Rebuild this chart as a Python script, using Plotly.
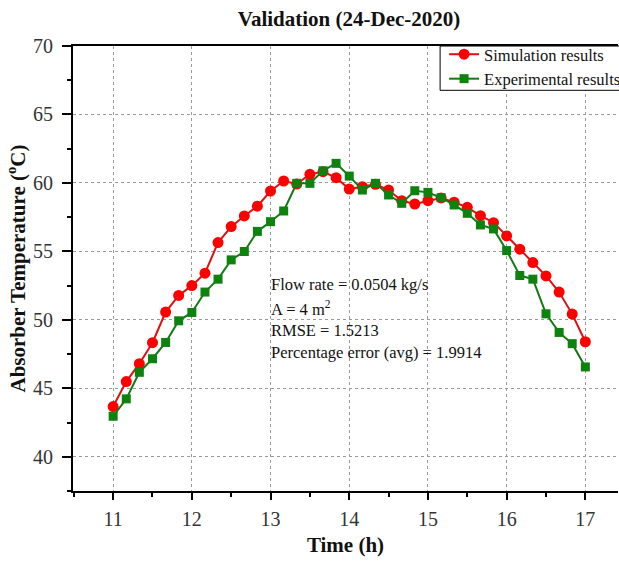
import plotly.graph_objects as go

# Time of day (h), 10-minute readings from 11:00 to 17:00
time_h = [11.0, 11.167, 11.333, 11.5, 11.667, 11.833, 12.0, 12.167, 12.333, 12.5,
          12.667, 12.833, 13.0, 13.167, 13.333, 13.5, 13.667, 13.833, 14.0, 14.167,
          14.333, 14.5, 14.667, 14.833, 15.0, 15.167, 15.333, 15.5, 15.667, 15.833,
          16.0, 16.167, 16.333, 16.5, 16.667, 16.833, 17.0]

# Absorber temperature (°C)
simulation = [43.67, 45.49, 46.8, 48.33, 50.57, 51.78, 52.5, 53.41, 55.64, 56.81,
              57.59, 58.3, 59.41, 60.14, 59.92, 60.63, 60.82, 60.38, 59.55, 59.72,
              59.9, 59.48, 58.7, 58.46, 58.7, 58.9, 58.59, 58.22, 57.61, 57.1,
              56.13, 55.16, 54.18, 53.21, 52.03, 50.42, 48.4]
experimental = [42.96, 44.23, 46.17, 47.16, 48.35, 49.93, 50.54, 52.03, 52.97, 54.38,
                54.99, 56.46, 57.17, 57.95, 59.97, 59.97, 60.89, 61.43, 60.5, 59.48,
                59.97, 59.12, 58.51, 59.43, 59.31, 58.92, 58.39, 57.78, 56.93, 56.64,
                55.06, 53.24, 52.97, 50.44, 49.08, 48.26, 46.56]

x_ticks = [11, 12, 13, 14, 15, 16, 17]
y_ticks = [40, 45, 50, 55, 60, 65, 70]

info_lines = ["Flow rate = 0.0504 kg/s", "A = 4 m<sup>2</sup>", "RMSE = 1.5213",
              "Percentage error (avg) = 1.9914"]
info_y = [52.56, 50.8, 49.2, 47.6]

SERIF = "Liberation Serif, Times New Roman, serif"

# plot-area geometry in pixels (used for legend / box placement)
W, H = 619, 561
L, R, T, B = 72.7, 1, 45.7, 70.3
PW, PH = W - L - R, H - T - B

fig = go.Figure()
fig.add_trace(go.Scatter(
    x=time_h, y=simulation, name="Simulation results", mode="lines+markers",
    line=dict(color="#DD1111", width=2),
    marker=dict(symbol="circle", size=11, color="#FF0000", line=dict(width=0)),
))
fig.add_trace(go.Scatter(
    x=time_h, y=experimental, name="Experimental results", mode="lines+markers",
    line=dict(color="#127A12", width=2),
    marker=dict(symbol="square", size=9, color="#0E820E", line=dict(width=0)),
))

for txt, yv in zip(info_lines, info_y):
    fig.add_annotation(x=12.98, y=yv, xref="x", yref="y", text=txt, showarrow=False,
                       xanchor="left", yanchor="middle", align="left",
                       font=dict(family=SERIF, size=16.5, color="#111111"))

# framed box behind the legend entries
fig.add_shape(type="rect", xref="paper", yref="paper",
              x0=(440 - L) / PW, x1=1.02, y0=1 - (90 - T) / PH, y1=1,
              line=dict(color="black", width=1), fillcolor="white", layer="above")

grid = dict(showgrid=True, gridcolor="#9a9a9a", gridwidth=1, griddash="dot")

fig.update_layout(
    width=W, height=H,
    margin=dict(l=L, r=R, t=T, b=B, autoexpand=False),
    paper_bgcolor="white", plot_bgcolor="white",
    font=dict(family=SERIF, color="#222222"),
    title=dict(text="<b>Validation (24-Dec-2020)</b>", x=349 / W, xref="container",
               xanchor="center", y=1 - 19 / H, yref="container", yanchor="middle",
               font=dict(family=SERIF, size=21, color="#111111")),
    xaxis=dict(range=[10.49, 17.415], tickvals=x_ticks, ticks="outside", ticklen=7,
               tickwidth=2, tickcolor="black", showline=True, linecolor="black",
               linewidth=2, mirror=True, zeroline=False,
               tickfont=dict(family=SERIF, size=20, color="#333333"),
               ticklabelstandoff=2,
               minor=dict(dtick=0.5, ticks="outside", ticklen=4, tickwidth=2,
                          tickcolor="black", showgrid=False),
               title=dict(text="<b>Time (h)</b>", standoff=8,
                          font=dict(family=SERIF, size=21, color="#111111")),
               **grid),
    yaxis=dict(range=[37.5, 70], tickvals=y_ticks, ticks="outside", ticklen=9,
               tickwidth=2, tickcolor="black", showline=True, linecolor="black",
               linewidth=2, zeroline=False,
               tickfont=dict(family=SERIF, size=20, color="#333333"),
               ticklabelstandoff=5,
               minor=dict(dtick=2.5, ticks="outside", ticklen=4, tickwidth=2,
                          tickcolor="black", showgrid=False),
               title=dict(text="<b>Absorber Temperature (<sup>o</sup>C)</b>", standoff=2,
                          font=dict(family=SERIF, size=21, color="#111111")),
               **grid),
    legend=dict(x=(444 - L) / PW, y=1 + 9 / PH, xanchor="left", yanchor="top",
                bgcolor="rgba(0,0,0,0)", borderwidth=0,
                font=dict(family=SERIF, size=16.5, color="#111111"),
                tracegroupgap=0, itemwidth=30),
    showlegend=True,
)

fig.write_html("out.html")
